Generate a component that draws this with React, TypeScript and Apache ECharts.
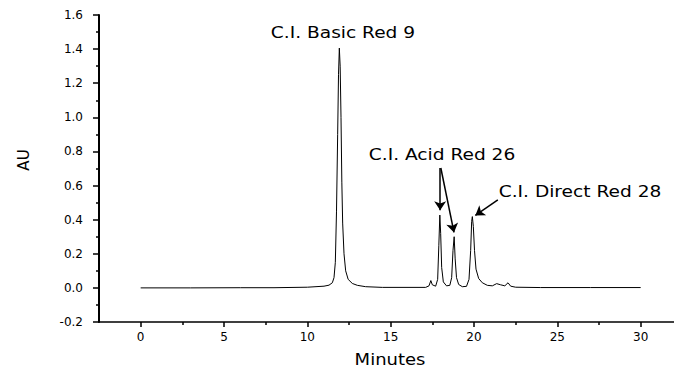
import React, { useEffect, useRef } from "react";
import * as echarts from "echarts";

// Chromatogram trace: [minutes, AU]
const trace: [number, number][] = [
  [0, 0], [3, 0], [6, 0.001], [8, 0.001], [10, 0.004], [11, 0.01], [11.3, 0.016],
  [11.5, 0.03], [11.6, 0.06], [11.68, 0.15], [11.75, 0.45], [11.82, 0.9], [11.87, 1.25],
  [11.92, 1.406], [11.97, 1.3], [12.02, 1.0], [12.07, 0.62], [12.12, 0.38], [12.2, 0.2],
  [12.3, 0.1], [12.45, 0.05], [12.7, 0.026], [13.0, 0.015], [13.5, 0.007], [14.5, 0.003],
  [17.1, 0.003], [17.3, 0.012], [17.41, 0.043], [17.5, 0.018], [17.7, 0.01], [17.82, 0.05],
  [17.89, 0.25], [17.95, 0.427], [18.0, 0.32], [18.06, 0.12], [18.16, 0.035], [18.35, 0.012],
  [18.55, 0.015], [18.66, 0.06], [18.74, 0.22], [18.81, 0.3], [18.87, 0.17], [18.95, 0.06],
  [19.08, 0.02], [19.3, 0.007], [19.55, 0.009], [19.7, 0.05], [19.8, 0.22], [19.86, 0.39],
  [19.9, 0.418], [19.96, 0.36], [20.03, 0.22], [20.12, 0.11], [20.28, 0.055], [20.5, 0.03],
  [20.8, 0.015], [21.1, 0.012], [21.36, 0.025], [21.6, 0.018], [21.85, 0.012], [22.04, 0.03],
  [22.2, 0.01], [22.5, 0.004], [24, 0.002], [27, 0.002], [30, 0.002],
];

const xLabelValues = [0, 5, 10, 15, 20, 25, 30];
const xMinorValues = [2.5, 7.5, 12.5, 17.5, 22.5, 27.5];

const peakLabels = [
  { text: "C.I. Basic Red 9", x: 343, y: 33 },
  { text: "C.I. Acid Red 26", x: 442, y: 155 },
  { text: "C.I. Direct Red 28", x: 580, y: 192 },
];

// arrows: [from, to] in data coords
const arrows: [[number, number], [number, number]][] = [
  [[17.97, 0.703], [17.97, 0.455]],
  [[18.01, 0.703], [18.8, 0.325]],
  [[21.43, 0.516], [20.08, 0.425]],
];

const FONT = "DejaVu Sans, Liberation Sans, Arial, sans-serif";

export default function App() {
  const ref = useRef<HTMLDivElement>(null);
  useEffect(() => {
    if (!ref.current) return;
    const chart = echarts.init(ref.current, undefined, { renderer: "svg" });
    chart.setOption({
      animation: false,
      backgroundColor: "#fff",
      grid: { left: 99, right: 0, top: 15, bottom: 48 },
      xAxis: [
        {
          type: "value",
          position: "bottom",
          min: -2.5,
          max: 32,
          axisLine: { show: true, onZero: false, lineStyle: { color: "#000", width: 1.5 } },
          axisTick: { show: true, length: 5, customValues: xLabelValues, lineStyle: { color: "#000", width: 1.5 } },
          axisLabel: { customValues: xLabelValues, color: "#000", fontSize: 12, fontFamily: FONT, margin: 9 },
          splitLine: { show: false },
        },
        {
          type: "value",
          position: "bottom",
          min: -2.5,
          max: 32,
          axisLine: { show: false, onZero: false },
          axisTick: { show: true, length: 3, customValues: xMinorValues, lineStyle: { color: "#000", width: 1.5 } },
          axisLabel: { show: false },
          splitLine: { show: false },
        },
      ],
      yAxis: {
        type: "value",
        min: -0.2,
        max: 1.6,
        interval: 0.2,
        axisLine: { show: true, onZero: false, lineStyle: { color: "#000", width: 2 } },
        axisTick: { show: true, length: 6, lineStyle: { color: "#000", width: 1.5 } },
        minorTick: { show: true, splitNumber: 2, length: 3, lineStyle: { color: "#000", width: 1.5 } },
        axisLabel: {
          color: "#000",
          fontSize: 12,
          fontFamily: FONT,
          margin: 16,
          formatter: (v: number) => v.toFixed(1),
        },
        splitLine: { show: false },
      },
      graphic: [
        ...peakLabels.map((p) => ({
          type: "text",
          x: p.x,
          y: p.y,
          scaleX: 1.24,
          style: {
            text: p.text,
            fill: "#000",
            font: `15px ${FONT}`,
            textAlign: "center",
            textVerticalAlign: "middle",
          },
        })),
        {
          type: "text",
          x: 390,
          y: 360,
          scaleX: 1.2,
          style: {
            text: "Minutes",
            fill: "#000",
            font: `15px ${FONT}`,
            textAlign: "center",
            textVerticalAlign: "middle",
          },
        },
        {
          type: "text",
          x: 24,
          y: 160,
          rotation: Math.PI / 2,
          style: {
            text: "AU",
            fill: "#000",
            font: `15px ${FONT}`,
            textAlign: "center",
            textVerticalAlign: "middle",
          },
        },
      ],
      series: [
        {
          type: "line",
          xAxisIndex: 0,
          data: trace,
          showSymbol: false,
          symbol: "none",
          lineStyle: { color: "#000", width: 1 },
          markLine: {
            silent: true,
            symbol: ["none", "arrow"],
            symbolSize: 9,
            label: { show: false },
            lineStyle: { color: "#000", width: 1.5, type: "solid" },
            data: arrows.map(([a, b]) => [{ coord: a }, { coord: b }]),
          },
        },
      ],
    });
    return () => chart.dispose();
  }, []);
  return (
    <div
      ref={ref}
      style={{ position: "absolute", left: 0, top: 0, width: 674, height: 370 }}
    />
  );
}
